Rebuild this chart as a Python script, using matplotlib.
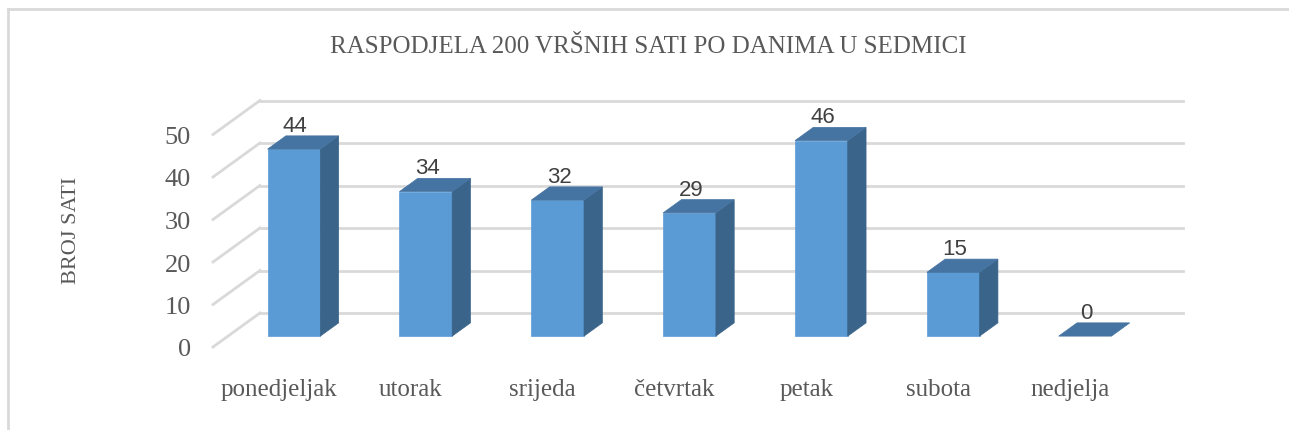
import matplotlib.pyplot as plt
from matplotlib.patches import Polygon, Rectangle
from matplotlib.lines import Line2D

days = ['ponedjeljak', 'utorak', 'srijeda', 'četvrtak', 'petak', 'subota', 'nedjelja']
hours = [44, 34, 32, 29, 46, 15, 0]
y_ticks = [0, 10, 20, 30, 40, 50]

title = 'RASPODJELA 200 VRŠNIH SATI PO DANIMA U SEDMICI'
y_label = 'BROJ SATI'

# pseudo-3D look: depth of the floor and where the bars sit inside it
DEPTH_X, DEPTH_Y = 0.356, 8.0
BAR_FRONT, BAR_BACK = 0.32, 0.71
BAR_W = 0.4

FRONT = '#5B9BD5'
SIDE = '#3A6489'
TOP = '#4674A2'
GRID = '#D9D9D9'
TEXT = '#595959'

plt.rcParams['font.family'] = 'Liberation Serif'

W, H = 1289, 431
fig = plt.figure(figsize=(W / 100, H / 100), dpi=100)
ax = fig.add_axes([213 / W, (H - 348) / H, 923 / W, 212.5 / H])
ax.set_xlim(-0.5, len(days) - 0.5)
ax.set_ylim(0, 50)
for s in ax.spines.values():
    s.set_visible(False)

# floor/wall gridlines
x0 = -0.5
x1 = len(days) - 0.5
for v in y_ticks:
    ax.plot([x0, x0 + DEPTH_X], [v, v + DEPTH_Y], color=GRID, lw=2, clip_on=False, zorder=1)
    ax.plot([x0 + DEPTH_X, x1 + DEPTH_X], [v + DEPTH_Y, v + DEPTH_Y],
            color=GRID, lw=2, clip_on=False, zorder=1)

fx, fy = BAR_FRONT * DEPTH_X, BAR_FRONT * DEPTH_Y
bx, by = BAR_BACK * DEPTH_X, BAR_BACK * DEPTH_Y
for i, v in enumerate(hours):
    left = i - BAR_W / 2 + fx
    right = i + BAR_W / 2 + fx
    if v > 0:
        ax.add_patch(Rectangle((left, fy), BAR_W, v, facecolor=FRONT,
                               edgecolor=FRONT, lw=0.5, clip_on=False, zorder=3))
        ax.add_patch(Polygon([(right, fy), (right + bx - fx, by),
                              (right + bx - fx, by + v), (right, fy + v)],
                             closed=True, facecolor=SIDE, edgecolor=SIDE, lw=0.5,
                             clip_on=False, zorder=3))
    ax.add_patch(Polygon([(left, fy + v), (right, fy + v),
                          (right + bx - fx, by + v), (left + bx - fx, by + v)],
                         closed=True, facecolor=TOP, edgecolor=TOP, lw=0.5,
                         clip_on=False, zorder=4))
    ax.annotate(str(v), xy=(i + fx, v + by), xytext=(1, 0), textcoords='offset points',
                ha='center', va='bottom', fontsize=16, color='#404040',
                family='Liberation Sans', zorder=5, annotation_clip=False)

ax.set_xticks(range(len(days)))
ax.set_xticklabels(days, fontsize=18, color=TEXT)
ax.set_yticks(y_ticks)
ax.set_yticklabels([str(t) for t in y_ticks], fontsize=19, color=TEXT)
ax.tick_params(axis='x', length=0, pad=22)
ax.tick_params(axis='y', length=0, pad=16)

fig.text(72 / W, 1 - 230 / H, y_label, rotation=90, ha='center', va='center',
         fontsize=16, color=TEXT)
fig.text(648 / W, 1 - 47 / H, title, ha='center', va='center', fontsize=18, color=TEXT)

# chart frame
fig.add_artist(Line2D([8 / W, 8 / W], [0, 1 - 10 / H], color=GRID, lw=2))
fig.add_artist(Line2D([8 / W, 1], [1 - 10 / H, 1 - 10 / H], color=GRID, lw=2))

fig.savefig('out.png', dpi=100)
